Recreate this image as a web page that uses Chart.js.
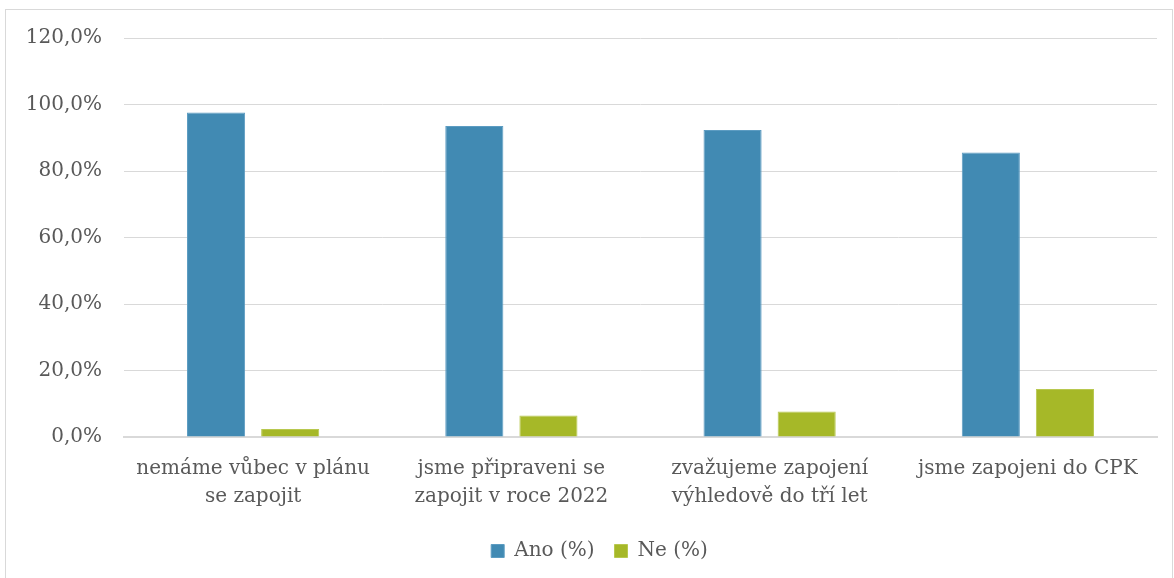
<!DOCTYPE html>
<html lang="cs">
<head>
    <title>Zapojení do CPK</title>
    <meta charset="utf-8" />
    <script src="https://cdn.jsdelivr.net/npm/chart.js"></script>
    <style>
        body { margin: 0; background: #fff; font-family: 'DejaVu Serif', serif; }
        #box {
            position: absolute;
            left: 5px; top: 9px;
            width: 1166px; height: 568px;
            border: 1px solid #d9d9d9;
            border-bottom: none;
        }
        #zahrati { position: absolute; left: -999px; top: 0; font: 20px 'DejaVu Serif'; }
    </style>
</head>
<body>
    <span id="zahrati">Ano Ne 0,0%</span>
    <div id="box"><canvas id="graf" width="1166" height="568"></canvas></div>

    <script>
        // kategorie (dva řádky popisku)
        var kategorie = [
            ['nemáme vůbec v plánu', 'se zapojit'],
            ['jsme připraveni se', 'zapojit v roce 2022'],
            ['zvažujeme zapojení', 'výhledově do tří let'],
            ['jsme zapojeni do CPK']
        ];
        var ano = [97.6, 93.5, 92.3, 85.6];
        var ne = [2.4, 6.5, 7.7, 14.4];
        var nazvyRad = ['Ano (%)', 'Ne (%)'];

        var pismo = { family: "'DejaVu Serif', serif", size: 20 };
        var sedaText = '#595959';

        // legenda je v originále trochu vpravo od středu
        var posunLegendy = {
            id: 'posunLegendy',
            afterLayout: function (chart) {
                chart.legend.left += 18;
                chart.legend.right += 18;
            }
        };

        function kresli() {
            new Chart(document.getElementById('graf'), {
                type: 'bar',
                data: {
                    labels: kategorie,
                    datasets: [
                        { label: nazvyRad[0], data: ano, backgroundColor: '#418AB3', borderColor: '#5c9cc2', borderWidth: 1 },
                        { label: nazvyRad[1], data: ne, backgroundColor: '#A6B828', borderColor: '#b8c84f', borderWidth: 1 }
                    ]
                },
                plugins: [posunLegendy],
                options: {
                    responsive: false,
                    animation: false,
                    categoryPercentage: 0.574,
                    barPercentage: 0.784,
                    layout: { padding: { top: 28, right: 15, bottom: 7, left: 0 } },
                    plugins: {
                        tooltip: { enabled: false },
                        legend: {
                            position: 'bottom',
                            labels: {
                                color: sedaText,
                                font: pismo,
                                boxWidth: 13,
                                boxHeight: 13,
                                padding: 20
                            }
                        }
                    },
                    scales: {
                        x: {
                            afterFit: function (s) { s.height -= 8; },
                            grid: { display: false, drawTicks: false },
                            border: { color: '#d9d9d9', width: 2 },
                            ticks: {
                                color: sedaText,
                                font: Object.assign({ lineHeight: 1.4 }, pismo),
                                padding: 18,
                                maxRotation: 0,
                                autoSkip: false
                            }
                        },
                        y: {
                            min: 0,
                            max: 120,
                            afterFit: function (s) { s.width = 118; },
                            grid: { color: '#d9d9d9', drawTicks: false },
                            border: { display: false },
                            ticks: {
                                stepSize: 20,
                                color: sedaText,
                                // malá výška řádku, aby popisek 120 % neposouval graf dolů
                                font: Object.assign({ lineHeight: 0.3 }, pismo),
                                padding: 22,
                                callback: function (v) { return v.toFixed(1).replace('.', ',') + '%'; }
                            }
                        }
                    }
                }
            });
        }

        if (document.fonts && document.fonts.load) {
            document.fonts.load("20px 'DejaVu Serif'").then(kresli, kresli);
        } else {
            kresli();
        }
    </script>
</body>
</html>
